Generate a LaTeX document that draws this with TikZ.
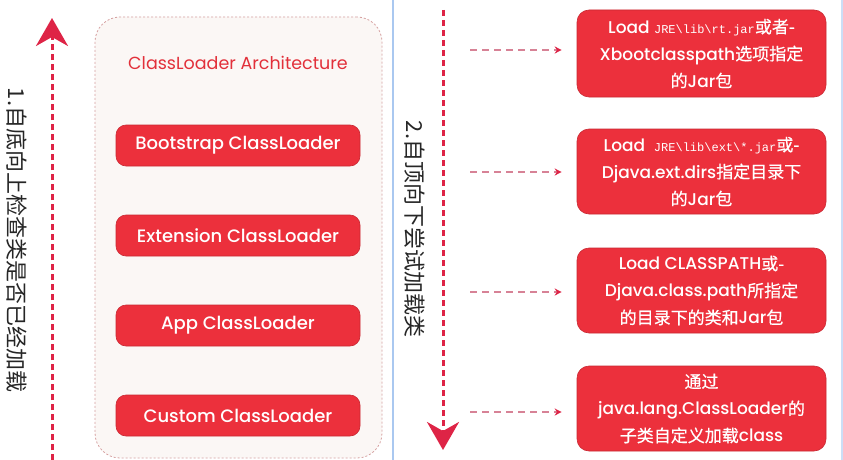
\documentclass[tikz,border=0pt]{standalone}
\usepackage{fontspec}
\setmainfont{Poppins}[UprightFont=* Medium]
\newfontfamily\popreg{Poppins}
\newfontfamily\cjkfont{Noto Sans CJK SC}
\newfontfamily\cjkbox{Noto Sans CJK SC}[FakeBold=0.6]
\newcommand\zh[1]{{\cjkbox #1}}
\newfontfamily\jmono{Liberation Mono}
\usetikzlibrary{arrows.meta}
\definecolor{boxred}{RGB}{236,48,60}
\definecolor{arrred}{RGB}{222,36,70}
\definecolor{thinred}{RGB}{215,130,150}
\definecolor{framefill}{RGB}{251,247,245}
\definecolor{framedraw}{RGB}{214,160,160}
\definecolor{bluel}{RGB}{170,200,240}
\definecolor{titlered}{RGB}{226,48,58}
\tikzset{
  loaderbox/.style={draw=boxred!85!black, line width=0.6pt, fill=boxred, rounded corners=10pt,
    minimum width=244pt, minimum height=41pt, text=white, inner sep=0pt,
    font=\fontsize{18}{22}\selectfont},
  loadbox/.style={draw=boxred!85!black, line width=0.6pt, fill=boxred, rounded corners=12pt,
    minimum width=249pt, text=white, inner sep=0pt, align=center,
    font=\fontsize{17}{27}\selectfont},
  bigarrow/.style={arrred, line width=3pt, dash pattern=on 6pt off 4pt,
    -{Stealth[length=28pt,width=32pt,inset=9pt]}},
  smallarrow/.style={thinred, line width=1.2pt, dash pattern=on 7pt off 5pt,
    -{Stealth[length=7pt,width=7pt,color=arrred]}, shorten >=15pt},
  vtext/.style={rotate=-90, text=black!85, font=\cjkfont\fontsize{22}{26}\selectfont, inner sep=0pt},
}
\begin{document}
\begin{tikzpicture}[x=1pt,y=-1pt]
\useasboundingbox (0,0) rectangle (843,460);
\fill[white] (0,0) rectangle (843,460);
% frame
\node[draw=framedraw, fill=framefill, dash pattern=on 2pt off 2pt, line width=0.8pt,
  rounded corners=25pt, minimum width=287pt, minimum height=441pt, inner sep=0pt]
  (frame) at (238.5,237.5) {};
\node[text=titlered, font=\popreg\fontsize{17.5}{20}\selectfont] (title) at (238,63) {ClassLoader Architecture};
\node[loaderbox] (boot) at (238,145.5) {Bootstrap ClassLoader};
\node[loaderbox] (ext) at (238,235.5) {Extension ClassLoader};
\node[loaderbox] (app) at (238,325.5) {App ClassLoader};
\node[loaderbox] (cust) at (238,415.5) {Custom ClassLoader};
% separators
\draw[bluel, line width=1.6pt] (393,0) -- (393,460);
\draw[bluel!60, line width=1.2pt] (842,0) -- (842,460);
% left arrow and text
\coordinate (lb) at (52,460);
\coordinate (lt) at (52,18);
\draw[bigarrow] (lb) -- (lt);
\node[vtext] (ltext) at (17,240) {1.自底向上检查类是否已经加载};
% right arrow and text
\coordinate (rt) at (443,10);
\coordinate (rb) at (443,450);
\draw[bigarrow] (rt) -- (rb);
\node[vtext] (rtext) at (415,229) {2.自顶向下尝试加载类};
% right boxes
\node[loadbox, minimum height=87pt] (l1) at (701.5,53.5)
  {Load {\jmono\fontsize{12}{12}\selectfont JRE\textbackslash lib\textbackslash rt.jar}\zh{或者-}\\Xbootclasspath\zh{选项指定}\\\zh{的}Jar\zh{包}};
\node[loadbox, minimum height=85pt] (l2) at (701.5,171.5)
  {Load \ {\jmono\fontsize{12}{12}\selectfont JRE\textbackslash lib\textbackslash ext\textbackslash *.jar}\zh{或-}\\Djava.ext.dirs\zh{指定目录下}\\\zh{的}Jar\zh{包}};
\node[loadbox, minimum height=85pt] (l3) at (701.5,290.5)
  {Load CLASSPATH\zh{或-}\\Djava.class.path\zh{所指定}\\\zh{的目录下的类和}Jar\zh{包}};
\node[loadbox, minimum height=85pt] (l4) at (701.5,408.5)
  {\zh{通过}\\java.lang.ClassLoader\zh{的}\\\zh{子类自定义加载}class};
% small arrows
\coordinate (s1) at (470,50);
\coordinate (s2) at (470,172);
\coordinate (s3) at (470,292);
\coordinate (s4) at (470,412);
\draw[smallarrow] (s1) -- (s1 -| l1.west);
\draw[smallarrow] (s2) -- (s2 -| l2.west);
\draw[smallarrow] (s3) -- (s3 -| l3.west);
\draw[smallarrow] (s4) -- (s4 -| l4.west);
\end{tikzpicture}
\end{document}
